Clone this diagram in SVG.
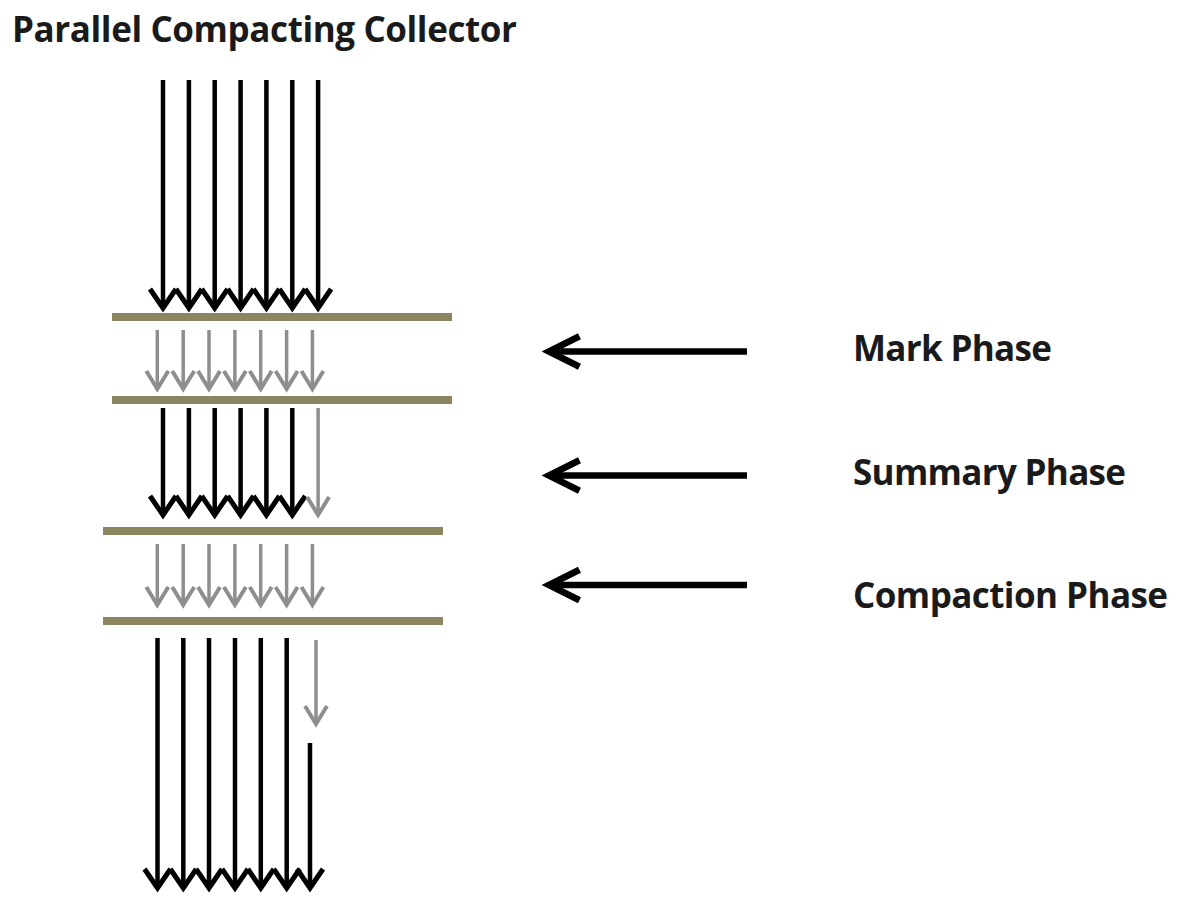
<svg xmlns="http://www.w3.org/2000/svg" width="1196" height="918" viewBox="0 0 1196 918">
<style>
.t{font-family:"Open Sans","Noto Sans","DejaVu Sans",sans-serif;font-weight:bold;font-size:35px;fill:#1a1a1a}
.bar{stroke:#8a8660;stroke-width:8;fill:none}
.bk{stroke:#000;stroke-width:4.5;fill:none;marker-end:url(#hb)}
.gr{stroke:#8e8e8e;stroke-width:3.5;fill:none;marker-end:url(#hg)}
.hz{stroke:#000;stroke-width:6.5;fill:none;marker-end:url(#hh)}
</style>
<defs>
<marker id="hb" markerUnits="userSpaceOnUse" orient="auto" overflow="visible" refX="0" refY="0" markerWidth="30" markerHeight="30" viewBox="-22 -15 26 30">
<path d="M-19,-13 L0,0 L-19,13" stroke="#000" stroke-width="5" fill="none"/>
</marker>
<marker id="hg" markerUnits="userSpaceOnUse" orient="auto" overflow="visible" refX="0" refY="0" markerWidth="30" markerHeight="30" viewBox="-22 -15 26 30">
<path d="M-18,-11 L0,0 L-18,11" stroke="#8e8e8e" stroke-width="4" fill="none"/>
</marker>
<marker id="hh" markerUnits="userSpaceOnUse" orient="auto" overflow="visible" refX="0" refY="0" markerWidth="40" markerHeight="40" viewBox="-38 -20 42 40">
<path d="M-32,-16 L0,0 L-32,16" stroke="#000" stroke-width="7" fill="none"/>
</marker>
</defs>
<rect width="1196" height="918" fill="#fff"/>
<g id="title"><text class="t" x="12" y="42" textLength="505" lengthAdjust="spacing">Parallel Compacting Collector</text></g>
<g id="bars">
<line class="bar" x1="112" y1="317" x2="452" y2="317"/>
<line class="bar" x1="112" y1="400" x2="452" y2="400"/>
<line class="bar" x1="103" y1="531" x2="443" y2="531"/>
<line class="bar" x1="103" y1="621" x2="443" y2="621"/>
</g>
<g id="labels">
<g id="mark"><text class="t" x="853" y="361" textLength="199" lengthAdjust="spacing">Mark Phase</text></g>
<g id="summary"><text class="t" x="853" y="485" textLength="273" lengthAdjust="spacing">Summary Phase</text></g>
<g id="compaction"><text class="t" x="853" y="608" textLength="315" lengthAdjust="spacing">Compaction Phase</text></g>
</g>
<g id="connectors">
<g id="top">
<line class="bk" x1="163" y1="80" x2="163" y2="308"/>
<line class="bk" x1="188.9" y1="80" x2="188.9" y2="308"/>
<line class="bk" x1="214.7" y1="80" x2="214.7" y2="308"/>
<line class="bk" x1="240.6" y1="80" x2="240.6" y2="308"/>
<line class="bk" x1="266.4" y1="80" x2="266.4" y2="308"/>
<line class="bk" x1="292.3" y1="80" x2="292.3" y2="308"/>
<line class="bk" x1="318.1" y1="80" x2="318.1" y2="308"/>
</g>
<g id="mark-arrows">
<line class="gr" x1="157.3" y1="330" x2="157.3" y2="389"/>
<line class="gr" x1="183.2" y1="330" x2="183.2" y2="389"/>
<line class="gr" x1="209" y1="330" x2="209" y2="389"/>
<line class="gr" x1="234.9" y1="330" x2="234.9" y2="389"/>
<line class="gr" x1="260.7" y1="330" x2="260.7" y2="389"/>
<line class="gr" x1="286.6" y1="330" x2="286.6" y2="389"/>
<line class="gr" x1="312.4" y1="330" x2="312.4" y2="389"/>
</g>
<g id="summary-arrows">
<line class="bk" x1="163" y1="408" x2="163" y2="515"/>
<line class="bk" x1="188.9" y1="408" x2="188.9" y2="515"/>
<line class="bk" x1="214.7" y1="408" x2="214.7" y2="515"/>
<line class="bk" x1="240.6" y1="408" x2="240.6" y2="515"/>
<line class="bk" x1="266.4" y1="408" x2="266.4" y2="515"/>
<line class="bk" x1="292.3" y1="408" x2="292.3" y2="515"/>
<line class="gr" x1="318.1" y1="408" x2="318.1" y2="515"/>
</g>
<g id="compaction-arrows">
<line class="gr" x1="157.3" y1="544" x2="157.3" y2="605"/>
<line class="gr" x1="183.2" y1="544" x2="183.2" y2="605"/>
<line class="gr" x1="209" y1="544" x2="209" y2="605"/>
<line class="gr" x1="234.9" y1="544" x2="234.9" y2="605"/>
<line class="gr" x1="260.7" y1="544" x2="260.7" y2="605"/>
<line class="gr" x1="286.6" y1="544" x2="286.6" y2="605"/>
<line class="gr" x1="312.4" y1="544" x2="312.4" y2="605"/>
</g>
<g id="bottom">
<line class="bk" x1="157.5" y1="638" x2="157.5" y2="888"/>
<line class="bk" x1="183.3" y1="638" x2="183.3" y2="888"/>
<line class="bk" x1="209" y1="638" x2="209" y2="888"/>
<line class="bk" x1="235" y1="638" x2="235" y2="888"/>
<line class="bk" x1="260.8" y1="638" x2="260.8" y2="888"/>
<line class="bk" x1="286.7" y1="638" x2="286.7" y2="888"/>
<line class="gr" x1="316" y1="640" x2="316" y2="724"/>
<line class="bk" x1="310" y1="743" x2="310" y2="888"/>
</g>
<g id="phase-arrows">
<line class="hz" x1="747" y1="351.5" x2="549" y2="351.5"/>
<line class="hz" x1="747" y1="475.5" x2="549" y2="475.5"/>
<line class="hz" x1="747" y1="585" x2="549" y2="585"/>
</g>
</g>
</svg>
